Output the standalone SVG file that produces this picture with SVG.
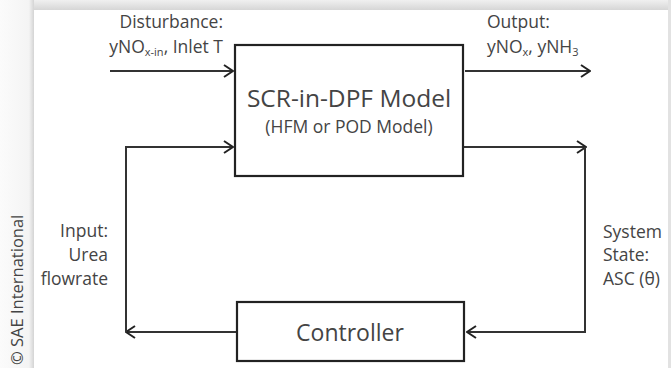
<svg xmlns="http://www.w3.org/2000/svg" width="671" height="368" viewBox="0 0 671 368">
<defs>
<linearGradient id="topg" x1="0" y1="0" x2="0" y2="1">
<stop offset="0" stop-color="#f0f0f0"/>
<stop offset="1" stop-color="#d6d6d6"/>
</linearGradient>
<linearGradient id="leftg" x1="0" y1="0" x2="1" y2="0">
<stop offset="0" stop-color="#fbfbfb"/>
<stop offset="0.85" stop-color="#f4f4f4"/>
<stop offset="1" stop-color="#d4d4d4"/>
</linearGradient>
<marker id="arr" viewBox="0 0 12 14" refX="11" refY="7" markerWidth="12" markerHeight="14" markerUnits="userSpaceOnUse" orient="auto">
<path d="M2,1 L11,7 L2,13" fill="none" stroke="#222" stroke-width="2"/>
</marker>
<style>
.t{font-family:"Open Sans","Noto Sans",sans-serif;fill:#444}
.lbl{font-size:17.5px}
.sub{font-size:11px}
.box{fill:#fff;stroke:#222;stroke-width:2.2}
.ln{fill:none;stroke:#333;stroke-width:2}
</style>
</defs>
<rect x="0" y="0" width="671" height="368" fill="#f6f6f6"/>
<rect x="0" y="0" width="671" height="10" fill="url(#topg)"/>
<rect x="0" y="0" width="34" height="368" fill="url(#leftg)"/>
<rect x="668" y="0" width="3" height="368" fill="#e2e2e2"/>
<rect x="34" y="10" width="634" height="358" fill="#fff"/>
<text class="t" font-size="16.5" transform="translate(23,365) rotate(-90)" fill="#555">© SAE International</text>

<g id="connectors">
<line class="ln" x1="110" y1="71" x2="233" y2="71" marker-end="url(#arr)"/>
<line class="ln" x1="465" y1="71" x2="590" y2="71" marker-end="url(#arr)"/>
<polyline class="ln" points="464,147 586,147" marker-end="url(#arr)"/>
<polyline class="ln" points="585,147 585,332 467,332" marker-end="url(#arr)"/>
<polyline class="ln" points="236,332 126,332" marker-end="url(#arr)"/>
<polyline class="ln" points="126,332 126,147 233,147" marker-end="url(#arr)"/>
</g>

<g id="model">
<rect class="box" x="235" y="45" width="228" height="131"/>
<text class="t" x="349" y="107" font-size="24.5" text-anchor="middle">SCR-in-DPF Model</text>
<text class="t" x="349" y="133" font-size="17.5" text-anchor="middle">(HFM or POD Model)</text>
</g>

<g id="controller">
<rect class="box" x="237" y="302" width="227" height="59"/>
<text class="t" x="350" y="341" font-size="23" text-anchor="middle">Controller</text>
</g>

<g id="disturbance">
<text class="t lbl" x="223" y="28" text-anchor="end">Disturbance:</text>
<text class="t lbl" x="223" y="53" text-anchor="end">yNO<tspan class="sub" dy="3">x-in</tspan><tspan dy="-3">, Inlet T</tspan></text>
</g>

<g id="output">
<text class="t lbl" x="487" y="28">Output:</text>
<text class="t lbl" x="487" y="53">yNO<tspan class="sub" dy="3">x</tspan><tspan dy="-3">, yNH</tspan><tspan class="sub" dy="3">3</tspan></text>
</g>

<g id="input">
<text class="t lbl" x="108" y="237" text-anchor="end">Input:</text>
<text class="t lbl" x="108" y="261" text-anchor="end">Urea</text>
<text class="t lbl" x="108" y="285" text-anchor="end">flowrate</text>
</g>

<g id="state">
<text class="t lbl" x="603" y="238">System</text>
<text class="t lbl" x="603" y="261">State:</text>
<text class="t lbl" x="603" y="285">ASC (θ)</text>
</g>
</svg>
